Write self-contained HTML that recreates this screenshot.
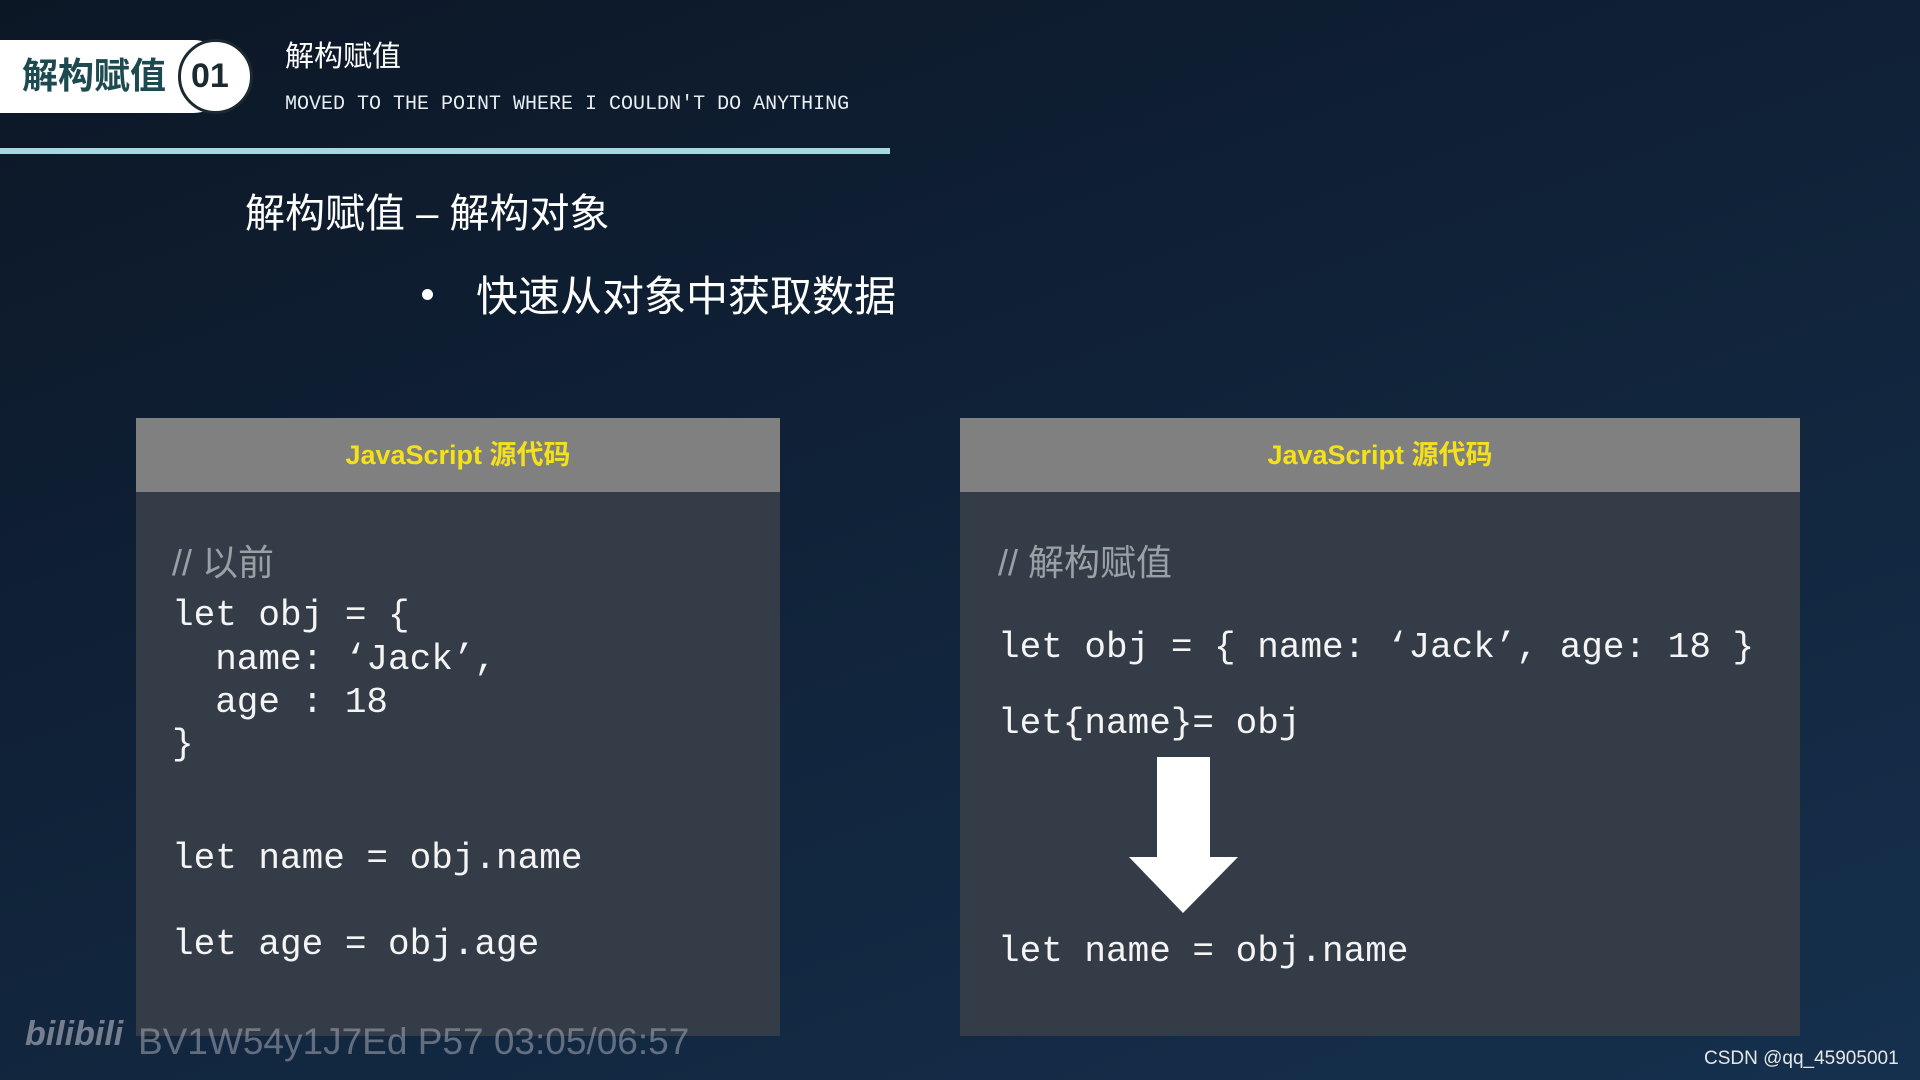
<!DOCTYPE html>
<html><head><meta charset="utf-8"><style>
*{margin:0;padding:0;box-sizing:border-box}
body{width:1920px;height:1080px;overflow:hidden;position:relative;
background:linear-gradient(160deg,#0c1726 0%,#102238 45%,#15304d 100%);
font-family:"Liberation Sans","Noto Sans CJK SC",sans-serif;color:#fff}
.a{position:absolute;white-space:pre}
.m{font-family:"Liberation Mono","Noto Sans CJK SC",monospace}
.panel{position:absolute;top:418px;height:618px;background:#343d47}
.ph{height:74px;background:#808080;color:#f5e11a;font-weight:bold;font-size:27px;text-align:center;line-height:74px}
.code{font-size:36px;line-height:40px;color:#f4f4f4}
.cm{color:#9aa0a6;font-size:36px;line-height:40px}
</style></head><body>
<div class="a" style="left:0;top:40px;width:230px;height:73px;background:#fff;border-radius:0 37px 37px 0"></div>
<div class="a" style="left:178px;top:39px;width:75px;height:75px;border:3px solid #1a2a30;border-radius:50%;background:#fff"></div>
<div class="a" style="left:22px;top:54px;font-size:36px;font-weight:bold;color:#1d4a50;line-height:44px">解构赋值</div>
<div class="a" style="left:191px;top:56px;font-size:34px;font-weight:bold;color:#1a2a30;line-height:40px">01</div>
<div class="a" style="left:285px;top:40px;font-size:29px;line-height:34px">解构赋值</div>
<div class="a m" style="left:285px;top:94px;font-size:20px;line-height:22px;color:#e8eef2">MOVED TO THE POINT WHERE I COULDN'T DO ANYTHING</div>
<div class="a" style="left:0;top:148px;width:890px;height:6px;background:#a5d8e0"></div>
<div class="a" style="left:245px;top:190px;font-size:40px;line-height:48px">解构赋值 – 解构对象</div>
<div class="a" style="left:422px;top:289px;width:11px;height:11px;border-radius:50%;background:#fff"></div>
<div class="a" style="left:476px;top:270px;font-size:42px;line-height:54px">快速从对象中获取数据</div>

<div class="panel" style="left:136px;width:644px"><div class="ph">JavaScript 源代码</div></div>
<div class="a cm" style="left:172px;top:543px">// 以前</div>
<div class="a m code" style="left:172px;top:596px">let obj = {</div>
<div class="a m code" style="left:172px;top:640px">  name: ‘Jack’,</div>
<div class="a m code" style="left:172px;top:683px">  age : 18</div>
<div class="a m code" style="left:172px;top:725px">}</div>
<div class="a m code" style="left:172px;top:839px">let name = obj.name</div>
<div class="a m code" style="left:172px;top:925px">let age = obj.age</div>

<div class="panel" style="left:960px;width:840px"><div class="ph">JavaScript 源代码</div></div>
<div class="a cm" style="left:998px;top:543px">// 解构赋值</div>
<div class="a m code" style="left:998px;top:628px">let obj = { name: ‘Jack’, age: 18 }</div>
<div class="a m code" style="left:998px;top:704px">let{name}= obj</div>
<svg class="a" style="left:1125px;top:755px" width="116" height="160"><polygon points="32,2 85,2 85,102 113,102 58,158 4,102 32,102" fill="#fff"/></svg>
<div class="a m code" style="left:998px;top:932px">let name = obj.name</div>

<div class="a" style="left:25px;top:1014px;font-size:34px;font-weight:bold;color:rgba(200,200,210,0.55);line-height:40px;font-style:italic">bilibili</div>
<div class="a" style="left:138px;top:1021px;font-size:37px;color:rgba(180,180,190,0.5);line-height:42px">BV1W54y1J7Ed P57 03:05/06:57</div>
<div class="a" style="left:1704px;top:1048px;font-size:19px;color:#e6e6e6;line-height:22px">CSDN @qq_45905001</div>
</body></html>
